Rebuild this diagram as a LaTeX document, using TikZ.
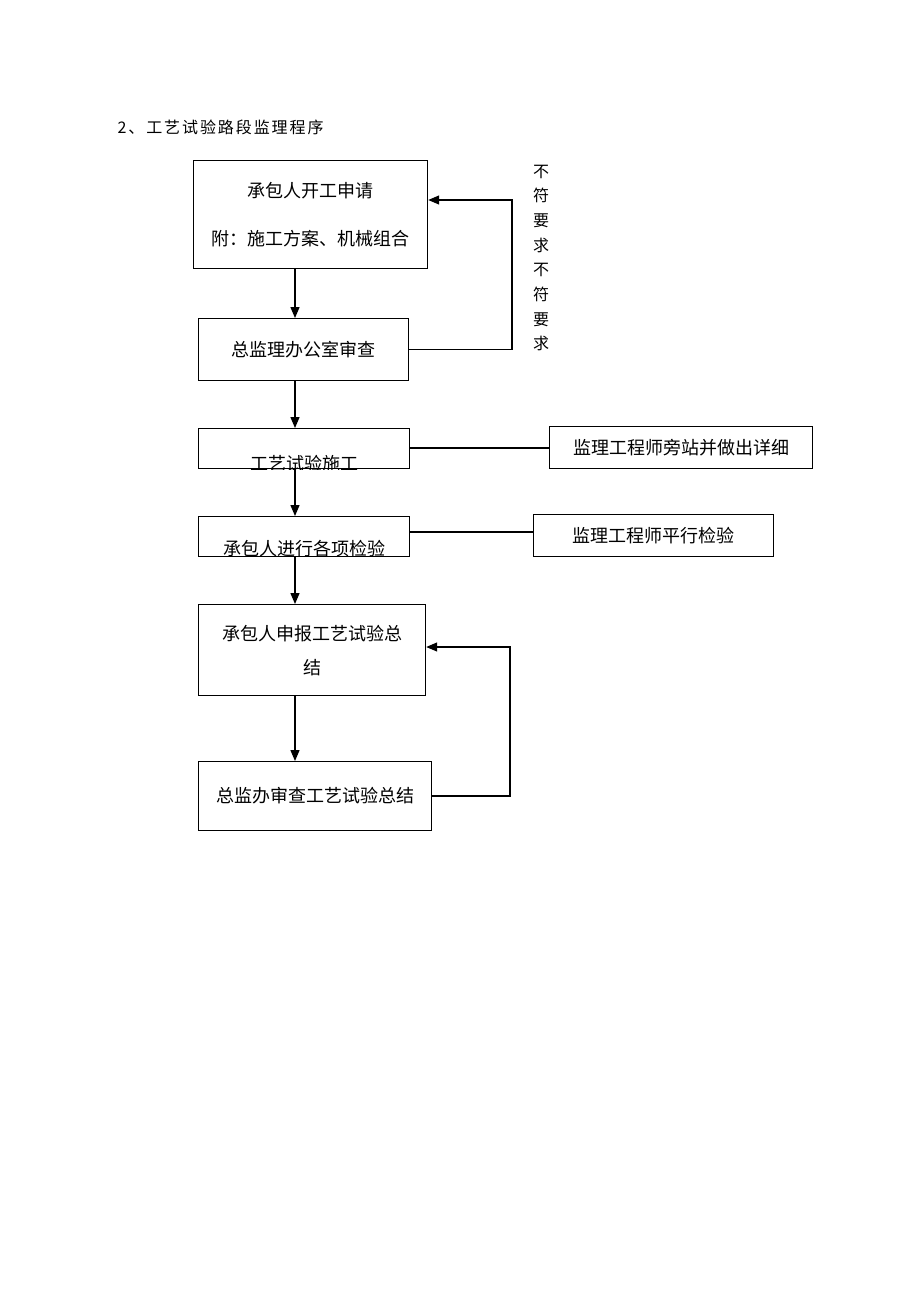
\documentclass[tikz,border=0pt]{standalone}
\usepackage{fontspec}
\newfontfamily\cjk{Noto Sans CJK SC}
\usetikzlibrary{arrows.meta}
\begin{document}
\begin{tikzpicture}[x=1pt,y=-1pt,
  box/.style={draw,line width=1.2pt,inner sep=0pt,anchor=north west,font=\cjk\fontsize{18}{34}\selectfont,align=center},
  arr/.style={line width=1.3pt,-{Triangle[length=11pt,width=9pt]}},
  ln/.style={line width=1.2pt}]
\useasboundingbox[fill=white] (0,0) rectangle (920,1302);
\node[anchor=west,font=\cjk\fontsize{16}{18}\selectfont\addfontfeature{LetterSpace=12}] (title) at (114,127) {2、工艺试验路段监理程序};
% boxes
\node[box,minimum width=234pt,minimum height=108pt,font=\cjk\fontsize{18}{48}\selectfont] (b1) at (193,160) {承包人开工申请\\附：施工方案、机械组合};
\node[box,minimum width=210pt,minimum height=62pt] (b2) at (198,318) {总监理办公室审查};
\node[box,minimum width=211pt,minimum height=40pt] (b3) at (198,428) {};
\node[box,minimum width=263pt,minimum height=42pt] (b4) at (549,426) {\raisebox{-4pt}{监理工程师旁站并做出详细}};
\node[box,minimum width=211pt,minimum height=40pt] (b5) at (198,516) {};
\node[box,minimum width=240pt,minimum height=42pt] (b6) at (533,514) {\raisebox{-4pt}{监理工程师平行检验}};
\node[box,minimum width=227pt,minimum height=91pt] (b7) at (198,604) {承包人申报工艺试验总\\结};
\node[box,minimum width=233pt,minimum height=69pt] (b8) at (198,761) {\raisebox{2pt}{总监办审查工艺试验总结}};
% clipped texts
\begin{scope}
\clip (b3.north west) rectangle (b3.south east);
\node[font=\cjk\fontsize{18}{18}\selectfont] (t3) at (304,464) {工艺试验施工};
\end{scope}
\begin{scope}
\clip (b5.north west) rectangle (b5.south east);
\node[font=\cjk\fontsize{18}{18}\selectfont] (t5) at (304,549) {承包人进行各项检验};
\end{scope}
% vertical label
\node[font=\cjk\fontsize{16}{24.7}\selectfont,align=center,inner sep=0pt] (lbl) at (541,258) {不\\符\\要\\求\\不\\符\\要\\求};
% arrows
\coordinate (ax) at (295,0);
\draw[arr] (b1.south -| ax) -- (b2.north -| ax);
\draw[arr] (b2.south -| ax) -- (b3.north -| ax);
\draw[arr] (b3.south -| ax) -- (b5.north -| ax);
\draw[arr] (b5.south -| ax) -- (b7.north -| ax);
\draw[arr] (b7.south -| ax) -- (b8.north -| ax);
% feedback loops
\coordinate (r1) at (512,200);
\draw[arr] (b2.east) -| (r1) -- (r1 -| b1.east);
\coordinate (r2) at (510,647);
\draw[arr] (b8.east) -| (r2) -- (r2 -| b7.east);
% side links
\coordinate (l1) at (0,448);
\draw[ln] (b3.east |- l1) -- (b4.west |- l1);
\coordinate (l2) at (0,532);
\draw[ln] (b5.east |- l2) -- (b6.west |- l2);
\end{tikzpicture}
\end{document}
